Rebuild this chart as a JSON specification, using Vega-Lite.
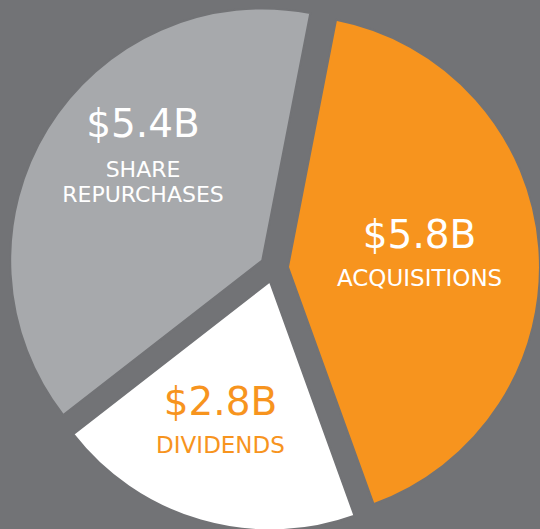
{
  "$schema": "https://vega.github.io/schema/vega-lite/v6.json",
  "width": 532,
  "height": 522,
  "autosize": "none",
  "padding": {"left": 8, "top": 7, "right": 0, "bottom": 0},
  "background": "#727376",
  "view": {"stroke": null},
  "data": {
    "values": [
      {"idx": 1, "category": "Acquisitions", "label": "ACQUISITIONS", "value": 5.8, "amount": "$5.8B"},
      {"idx": 2, "category": "Dividends", "label": "DIVIDENDS", "value": 2.8, "amount": "$2.8B"},
      {"idx": 3, "category": "Share Repurchases", "label": "SHARE REPURCHASES", "value": 5.4, "amount": "$5.4B"}
    ]
  },
  "encoding": {
    "theta": {"field": "value", "type": "quantitative", "stack": true, "scale": {"range": [0.1920, 6.4752]}},
    "order": {"field": "idx", "type": "quantitative"}
  },
  "layer": [
    {
      "mark": {"type": "arc", "radius": 252, "xOffset": 13.97, "yOffset": -0.84, "stroke": "#727376", "strokeWidth": 2},
      "encoding": {
        "color": {"field": "category", "type": "nominal", "scale": {"domain": ["Acquisitions", "Dividends", "Share Repurchases"], "range": ["#F7941E", "#FFFFFF", "#A7A9AC"]}, "legend": null},
        "opacity": {"condition": {"test": "datum.category === 'Acquisitions'", "value": 1}, "value": 0}
      }
    },
    {
      "mark": {"type": "arc", "radius": 249, "xOffset": -4.13, "yOffset": 13.38, "stroke": "#727376", "strokeWidth": 2},
      "encoding": {
        "color": {"field": "category", "type": "nominal", "scale": {"domain": ["Acquisitions", "Dividends", "Share Repurchases"], "range": ["#F7941E", "#FFFFFF", "#A7A9AC"]}, "legend": null},
        "opacity": {"condition": {"test": "datum.category === 'Dividends'", "value": 1}, "value": 0}
      }
    },
    {
      "mark": {"type": "arc", "radius": 252, "xOffset": -11.8, "yOffset": -7.54, "stroke": "#727376", "strokeWidth": 2},
      "encoding": {
        "color": {"field": "category", "type": "nominal", "scale": {"domain": ["Acquisitions", "Dividends", "Share Repurchases"], "range": ["#F7941E", "#FFFFFF", "#A7A9AC"]}, "legend": null},
        "opacity": {"condition": {"test": "datum.category === 'Share Repurchases'", "value": 1}, "value": 0}
      }
    },
    {
      "mark": {"type": "text", "radius": 146, "font": "DejaVu Sans", "fontSize": 39, "fontWeight": "normal", "color": "#FFFFFF", "baseline": "middle", "dy": -21},
      "encoding": {
        "text": {"field": "amount"},
        "opacity": {"condition": {"test": "datum.category === 'Acquisitions'", "value": 1}, "value": 0}
      }
    },
    {
      "mark": {"type": "text", "radius": 146, "font": "DejaVu Sans", "fontSize": 23, "fontWeight": "normal", "color": "#FFFFFF", "baseline": "middle", "dy": 22},
      "encoding": {
        "text": {"field": "label"},
        "opacity": {"condition": {"test": "datum.category === 'Acquisitions'", "value": 1}, "value": 0}
      }
    },
    {
      "mark": {"type": "text", "radius": 160, "font": "DejaVu Sans", "fontSize": 39, "fontWeight": "normal", "color": "#F7941E", "baseline": "middle", "dx": -9, "dy": -19},
      "encoding": {
        "text": {"field": "amount"},
        "opacity": {"condition": {"test": "datum.category === 'Dividends'", "value": 1}, "value": 0}
      }
    },
    {
      "mark": {"type": "text", "radius": 160, "font": "DejaVu Sans", "fontSize": 23, "fontWeight": "normal", "color": "#F7941E", "baseline": "middle", "dx": -9, "dy": 24},
      "encoding": {
        "text": {"field": "label"},
        "opacity": {"condition": {"test": "datum.category === 'Dividends'", "value": 1}, "value": 0}
      }
    },
    {
      "mark": {"type": "text", "radius": 169, "font": "DejaVu Sans", "fontSize": 39, "fontWeight": "normal", "color": "#FFFFFF", "baseline": "middle", "dx": 13, "dy": -55},
      "encoding": {
        "text": {"field": "amount"},
        "opacity": {"condition": {"test": "datum.category === 'Share Repurchases'", "value": 1}, "value": 0}
      }
    },
    {
      "mark": {"type": "text", "radius": 169, "font": "DejaVu Sans", "fontSize": 22, "fontWeight": "normal", "color": "#FFFFFF", "baseline": "top", "lineBreak": " ", "lineHeight": 25, "dx": 13, "dy": -20},
      "encoding": {
        "text": {"field": "label"},
        "opacity": {"condition": {"test": "datum.category === 'Share Repurchases'", "value": 1}, "value": 0}
      }
    }
  ]
}
